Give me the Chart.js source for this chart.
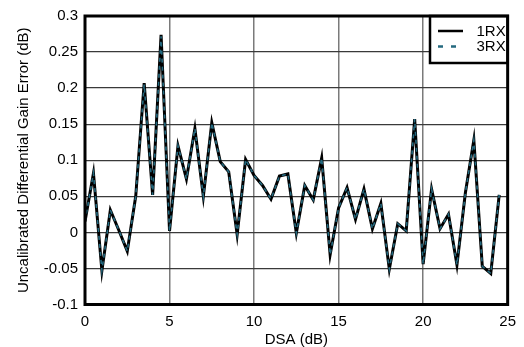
<!DOCTYPE html>
<html>
<head>
<meta charset="utf-8">
<script src="https://cdn.jsdelivr.net/npm/chart.js@4.4.1/dist/chart.umd.min.js"></script>
<style>
  html, body { margin: 0; padding: 0; background: #fff; }
  #wrap { width: 524px; height: 347px; }
</style>
</head>
<body>
<div id="wrap"><canvas id="chart" width="524" height="347"></canvas></div>
<script>
// DSA steps (dB)
const dsa = [0, 0.5, 1, 1.5, 2, 2.5, 3, 3.5, 4, 4.5, 5, 5.5, 6, 6.5, 7, 7.5, 8, 8.5, 9, 9.5,
             10, 10.5, 11, 11.5, 12, 12.5, 13, 13.5, 14, 14.5, 15, 15.5, 16, 16.5, 17, 17.5,
             18, 18.5, 19, 19.5, 20, 20.5, 21, 21.5, 22, 22.5, 23, 23.5, 24, 24.5];

// gain error, 1RX
const rx1 = [0.015, 0.082, -0.053, 0.031, 0.003, -0.026, 0.050, 0.207, 0.052, 0.274,
             0.002, 0.120, 0.074, 0.144, 0.050, 0.152, 0.098, 0.084, -0.003, 0.101,
             0.079, 0.065, 0.046, 0.078, 0.081, -0.001, 0.065, 0.045, 0.103, -0.031,
             0.034, 0.062, 0.018, 0.060, 0.005, 0.040, -0.051, 0.012, 0.002, 0.157,
             -0.044, 0.060, 0.005, 0.025, -0.045, 0.055, 0.128, -0.047, -0.057, 0.052];

// gain error, 3RX (sits on top of 1RX)
const rx3 = [0.015, 0.082, -0.053, 0.031, 0.003, -0.026, 0.050, 0.205, 0.052, 0.272,
             0.002, 0.120, 0.074, 0.144, 0.050, 0.152, 0.098, 0.084, -0.003, 0.101,
             0.079, 0.065, 0.046, 0.078, 0.081, -0.001, 0.065, 0.045, 0.103, -0.031,
             0.034, 0.062, 0.018, 0.060, 0.005, 0.040, -0.051, 0.012, 0.002, 0.157,
             -0.044, 0.060, 0.005, 0.025, -0.045, 0.055, 0.128, -0.047, -0.057, 0.052];

const xTicks = [0, 5, 10, 15, 20, 25];
const yTicks = [-0.1, -0.05, 0, 0.05, 0.1, 0.15, 0.2, 0.25, 0.3];

const seriesNames = ['1RX', '3RX'];
const TEAL = '#24697f';
const FONT = 'Liberation Sans, Arial, sans-serif';

const toPoints = vals => vals.map((v, i) => ({ x: dsa[i], y: v }));

// frame + legend box
const framePlugin = {
    id: 'frame',
    afterDraw(chart) {
        const c = chart.ctx;
        const a = chart.chartArea;
        c.save();
        // legend box
        const bx = 430, by = a.top, bw = a.right - 430, bh = 63 - a.top;
        c.fillStyle = '#fff';
        c.fillRect(bx, by, bw, bh);
        c.lineWidth = 2.5;
        c.strokeStyle = '#000';
        c.strokeRect(bx, by, bw, bh);

        c.lineWidth = 2.5;
        c.beginPath();
        c.moveTo(438, 31); c.lineTo(463, 31);
        c.stroke();
        c.strokeStyle = TEAL;
        c.setLineDash([5, 8]);
        c.beginPath();
        c.moveTo(438, 46.5); c.lineTo(463, 46.5);
        c.stroke();
        c.setLineDash([]);

        c.fillStyle = '#000';
        c.font = '15px ' + FONT;
        c.textBaseline = 'middle';
        c.textAlign = 'left';
        c.fillText(seriesNames[0], 476.5, 31.5);
        c.fillText(seriesNames[1], 476.5, 46.5);

        // plot border
        c.lineWidth = 3;
        c.strokeStyle = '#000';
        c.strokeRect(a.left, a.top, a.right - a.left, a.bottom - a.top);
        c.restore();
    }
};

new Chart(document.getElementById('chart'), {
    type: 'line',
    data: {
        datasets: [
            {
                label: seriesNames[0],
                data: toPoints(rx1),
                borderColor: '#000',
                borderWidth: 3,
                pointRadius: 0,
                tension: 0,
                order: 2
            },
            {
                label: seriesNames[1],
                data: toPoints(rx3),
                borderColor: TEAL,
                borderWidth: 1.6,
                borderDash: [4, 4],
                pointRadius: 0,
                tension: 0,
                order: 1
            }
        ]
    },
    options: {
        responsive: false,
        animation: false,
        layout: { padding: { top: 12, right: 11.5, left: 0, bottom: 0 } },
        plugins: { legend: { display: false }, tooltip: { enabled: false } },
        scales: {
            x: {
                type: 'linear',
                min: 0, max: 25,
                afterBuildTicks: s => { s.ticks = xTicks.map(v => ({ value: v })); },
                afterFit: s => { s.height = 42.5; },
                grid: { color: '#7a7a7a', lineWidth: 1.5, drawTicks: false },
                border: { display: false },
                ticks: { color: '#000', font: { family: FONT, size: 15 }, padding: 8, maxRotation: 0 },
                title: { display: true, text: 'DSA (dB)', color: '#000', font: { family: FONT, size: 15 }, padding: { top: -2, bottom: -2 } }
            },
            y: {
                min: -0.1, max: 0.3,
                afterBuildTicks: s => { s.ticks = yTicks.map(v => ({ value: v })); },
                afterFit: s => { s.width = 85; },
                grid: { color: '#3a3a3a', lineWidth: 1.3, drawTicks: false },
                border: { display: false },
                ticks: {
                    color: '#000', font: { family: FONT, size: 15 }, padding: 7,
                    callback: v => String(+v.toFixed(2))
                },
                title: {
                    display: true,
                    text: 'Uncalibrated Differential Gain Error (dB)',
                    color: '#000', font: { family: FONT, size: 15 },
                    padding: { top: 15, bottom: 15 }
                }
            }
        }
    },
    plugins: [framePlugin]
});
</script>
</body>
</html>
